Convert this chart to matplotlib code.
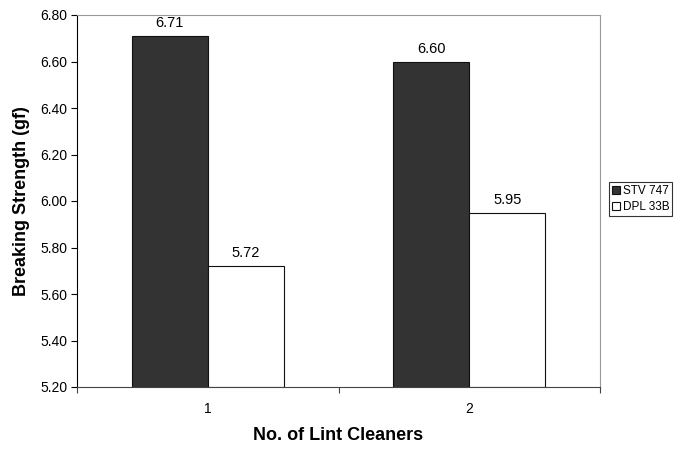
import matplotlib
matplotlib.use("Agg")
import matplotlib.pyplot as plt
import numpy as np

plt.rcParams['font.family'] = ['Liberation Sans', 'DejaVu Sans']

categories = ["1", "2"]
series_names = ["STV 747", "DPL 33B"]
stv_747 = [6.71, 6.60]
dpl_33b = [5.72, 5.95]
y_ticks = [5.20, 5.40, 5.60, 5.80, 6.00, 6.20, 6.40, 6.60, 6.80]

fig = plt.figure(figsize=(6.76, 4.49), dpi=100)
ax = fig.add_axes([77/676, 1 - 387/449, (600 - 77)/676, (387 - 15)/449])

x = np.arange(len(categories))
w = 0.29
base = 5.20
b1 = ax.bar(x - w/2, np.array(stv_747) - base, w, bottom=base, color="#333333",
            edgecolor="#111111", linewidth=0.8, label=series_names[0])
b2 = ax.bar(x + w/2, np.array(dpl_33b) - base, w, bottom=base, color="white",
            edgecolor="#111111", linewidth=0.8, label=series_names[1])

for bars, vals in ((b1, stv_747), (b2, dpl_33b)):
    for rect, v in zip(bars, vals):
        ax.text(rect.get_x() + rect.get_width()/2, v + 0.025, f"{v:.2f}",
                ha="center", va="bottom", fontsize=10.5)

ax.set_xlim(-0.5, 1.5)
ax.set_ylim(5.20, 6.80)
ax.set_yticks(y_ticks)
ax.set_yticklabels([f"{t:.2f}" for t in y_ticks], fontsize=10)
ax.set_xticks([-0.5, 0.5, 1.5])
ax.set_xticklabels([])
ax.set_xticks(x, minor=True)
ax.set_xticklabels(categories, minor=True, fontsize=10)
ax.tick_params(axis="x", which="minor", length=0, pad=11)
ax.tick_params(axis="x", which="major", length=4, direction="out", color="#444444")
ax.tick_params(axis="y", length=4, direction="out", pad=3)

ax.spines["top"].set_color("#999999")
ax.spines["right"].set_color("#999999")
ax.spines["left"].set_color("black")
ax.spines["bottom"].set_color("#444444")
for s in ax.spines.values():
    s.set_linewidth(0.8)

ax.set_xlabel("No. of Lint Cleaners", fontsize=13, fontweight="bold", labelpad=8)
ax.set_ylabel("Breaking Strength (gf)", fontsize=13, fontweight="bold", labelpad=7)

leg = fig.legend(handles=[b1, b2], loc="upper left", bbox_to_anchor=(609/676, 1 - 182/449),
                 fontsize=8.5, frameon=True, fancybox=False, borderpad=0.25,
                 handlelength=0.7, handleheight=0.7, handletextpad=0.2, labelspacing=0.35,
                 borderaxespad=0)
leg.get_frame().set_edgecolor("black")
leg.get_frame().set_linewidth(0.8)

fig.savefig("out.png", dpi=100)
